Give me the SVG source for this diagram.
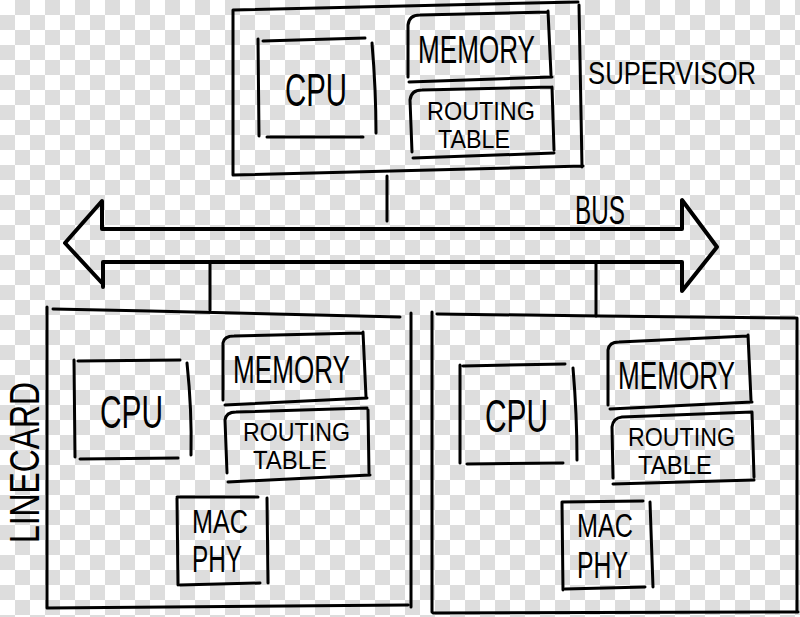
<svg xmlns="http://www.w3.org/2000/svg" width="800" height="617" viewBox="0 0 800 617">
<defs>
<pattern id="cb" width="30" height="30" patternUnits="userSpaceOnUse">
<rect width="30" height="30" fill="#ffffff"/>
<rect x="15" y="0" width="15" height="15" fill="#dddddd"/>
<rect x="0" y="15" width="15" height="15" fill="#dddddd"/>
</pattern>
</defs>
<style>
.ln{fill:none;stroke:#000;stroke-width:3;stroke-linecap:round;stroke-linejoin:round}
.bus{fill:none;stroke:#000;stroke-width:4;stroke-linecap:round;stroke-linejoin:round}
.t{font-family:"Liberation Sans","DejaVu Sans",sans-serif;fill:#000}
.rt{font-size:25px}
</style>
<rect width="800" height="617" fill="url(#cb)"/>

<g id="supervisor">
<path class="ln" d="M233,10 L578,2 M233,10 L233,175 M579,5 L582,167 M233,175 L583,166"/>
<text class="t" x="588" y="84" font-size="32" textLength="168" lengthAdjust="spacingAndGlyphs">SUPERVISOR</text>
</g>
<g id="sup-cpu">
<path class="ln" d="M263,41 L365,38 M258,39 L259,136 M267,137 L363,137 M372,43 Q376,90 376,133"/>
<text class="t" x="285" y="106" font-size="46" textLength="62" lengthAdjust="spacingAndGlyphs">CPU</text>
</g>
<g id="sup-memory">
<path class="ln" d="M408,77 L408,25 Q409,15 420,15 L548,12 M548,11 L551,75 M409,82 L552,77"/>
<text class="t" x="418" y="63" font-size="38" textLength="117" lengthAdjust="spacingAndGlyphs">MEMORY</text>
</g>
<g id="sup-routing">
<path class="ln" d="M412,152 L410,100 Q411,90 422,90 L552,87 M552,87 L554,150 M413,158 L554,153"/>
<text class="t rt" x="427" y="120" textLength="108" lengthAdjust="spacingAndGlyphs">ROUTING</text>
<text class="t rt" x="438" y="148" textLength="72" lengthAdjust="spacingAndGlyphs">TABLE</text>
</g>

<g id="connectors">
<path class="ln" d="M387,176 L387,221"/>
<path class="bus" d="M682,229 L102,229 L102,201 L65,243 L102,283 M103,287 L103,262 L682,262 L682,291 L717,247 L682,200 L682,229"/>
<path class="ln" d="M210,262 L210,310 M596,262 L596,316"/>
<text class="t" x="575" y="224" font-size="40" textLength="50" lengthAdjust="spacingAndGlyphs">BUS</text>
</g>

<g id="linecard-left">
<path class="ln" d="M53,309 L150,311 L400,317 M47,307 L47,608 M411,313 L411,607 M47,608 L408,605"/>
<text class="t" transform="translate(39,543) rotate(-90)" font-size="42" textLength="161" lengthAdjust="spacingAndGlyphs">LINECARD</text>
</g>
<g id="lc1-cpu">
<path class="ln" d="M78,361 L180,360 M74,360 L75,457 M80,459 L178,458 M187,363 Q192,410 191,455"/>
<text class="t" x="100" y="428" font-size="46" textLength="63" lengthAdjust="spacingAndGlyphs">CPU</text>
</g>
<g id="lc1-memory">
<path class="ln" d="M223,400 L223,343 Q224,336 234,336 L362,333 M363,332 L366,397 M225,405 L367,398"/>
<text class="t" x="233" y="383" font-size="38" textLength="117" lengthAdjust="spacingAndGlyphs">MEMORY</text>
</g>
<g id="lc1-routing">
<path class="ln" d="M227,473 L225,420 Q226,412 236,412 L367,408 M368,410 L369,473 M228,482 L370,475"/>
<text class="t rt" x="243" y="441" textLength="107" lengthAdjust="spacingAndGlyphs">ROUTING</text>
<text class="t rt" x="253" y="469" textLength="74" lengthAdjust="spacingAndGlyphs">TABLE</text>
</g>
<g id="lc1-macphy">
<path class="ln" d="M177,497 L258,497 M177,498 L178,585 M180,585 L260,583 M267,498 L268,583"/>
<text class="t" x="192" y="533" font-size="34" textLength="56" lengthAdjust="spacingAndGlyphs">MAC</text>
<text class="t" x="192" y="572" font-size="36" textLength="50" lengthAdjust="spacingAndGlyphs">PHY</text>
</g>

<g id="linecard-right">
<path class="ln" d="M437,314 L600,316 L796,318 M432,312 L432,612 M797,318 L797,612 M433,613 L798,612"/>
</g>
<g id="lc2-cpu">
<path class="ln" d="M463,366 L565,364 M460,365 L460,463 M467,464 L563,463 M573,368 Q577,415 577,460"/>
<text class="t" x="485" y="432" font-size="46" textLength="63" lengthAdjust="spacingAndGlyphs">CPU</text>
</g>
<g id="lc2-memory">
<path class="ln" d="M608,405 L608,350 Q609,342 619,342 L748,336 M748,335 L751,400 M610,409 L752,402"/>
<text class="t" x="618" y="389" font-size="38" textLength="117" lengthAdjust="spacingAndGlyphs">MEMORY</text>
</g>
<g id="lc2-routing">
<path class="ln" d="M613,478 L612,427 Q613,418 622,417 L752,412 M752,412 L754,477 M613,484 L754,480"/>
<text class="t rt" x="628" y="446" textLength="107" lengthAdjust="spacingAndGlyphs">ROUTING</text>
<text class="t rt" x="638" y="474" textLength="74" lengthAdjust="spacingAndGlyphs">TABLE</text>
</g>
<g id="lc2-macphy">
<path class="ln" d="M562,502 L643,501 M562,502 L563,590 M565,589 L645,587 M650,502 L653,587"/>
<text class="t" x="577" y="537" font-size="34" textLength="56" lengthAdjust="spacingAndGlyphs">MAC</text>
<text class="t" x="577" y="578" font-size="36" textLength="51" lengthAdjust="spacingAndGlyphs">PHY</text>
</g>
</svg>
